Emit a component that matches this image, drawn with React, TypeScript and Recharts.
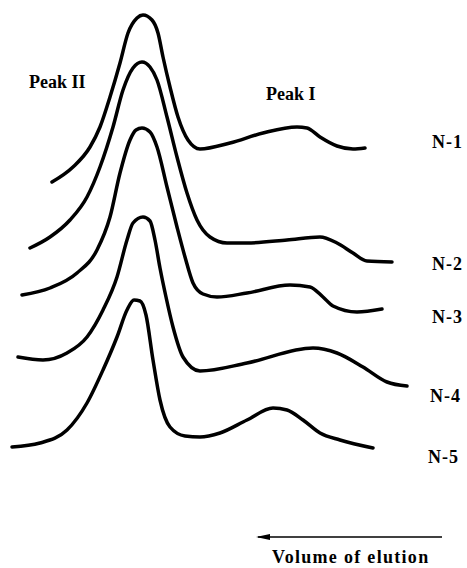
import React from "react";
import { LineChart, Line, XAxis, YAxis, ReferenceLine, ReferenceDot } from "recharts";

// traced elution profiles (x = elution position, y = trace height on the page, down is larger)
const n1 = [
  { x: 52, y: 182 }, { x: 73, y: 167 }, { x: 90, y: 147 }, { x: 100, y: 127 }, { x: 110, y: 97 },
  { x: 120, y: 63 }, { x: 128, y: 33 }, { x: 137, y: 18 }, { x: 143, y: 15 }, { x: 152, y: 20 },
  { x: 158, y: 33 }, { x: 163, y: 57 }, { x: 170, y: 87 }, { x: 178, y: 117 }, { x: 188, y: 140 },
  { x: 200, y: 149 }, { x: 230, y: 143 }, { x: 263, y: 133 }, { x: 297, y: 127 }, { x: 307, y: 128 },
  { x: 320, y: 137 }, { x: 337, y: 146 }, { x: 353, y: 149 }, { x: 365, y: 148 },
];
const n2 = [
  { x: 30, y: 248 }, { x: 50, y: 237 }, { x: 70, y: 220 }, { x: 87, y: 197 }, { x: 100, y: 167 },
  { x: 113, y: 127 }, { x: 123, y: 90 }, { x: 133, y: 68 }, { x: 142, y: 62 }, { x: 150, y: 67 },
  { x: 157, y: 80 }, { x: 167, y: 117 }, { x: 177, y: 157 }, { x: 187, y: 193 }, { x: 197, y: 220 },
  { x: 210, y: 237 }, { x: 227, y: 243 }, { x: 247, y: 243 }, { x: 287, y: 240 }, { x: 320, y: 237 },
  { x: 337, y: 243 }, { x: 353, y: 253 }, { x: 367, y: 261 }, { x: 392, y: 262 },
];
const n3 = [
  { x: 22, y: 295 }, { x: 50, y: 288 }, { x: 77, y: 273 }, { x: 97, y: 250 }, { x: 110, y: 217 },
  { x: 120, y: 173 }, { x: 130, y: 140 }, { x: 136, y: 130 }, { x: 142, y: 128 }, { x: 150, y: 132 },
  { x: 157, y: 147 }, { x: 167, y: 187 }, { x: 177, y: 227 }, { x: 185, y: 257 }, { x: 193, y: 283 },
  { x: 203, y: 294 }, { x: 217, y: 297 }, { x: 247, y: 293 }, { x: 290, y: 285 }, { x: 310, y: 287 },
  { x: 323, y: 297 }, { x: 333, y: 306 }, { x: 357, y: 312 }, { x: 382, y: 309 },
];
const n4 = [
  { x: 18, y: 357 }, { x: 43, y: 360 }, { x: 67, y: 353 }, { x: 87, y: 337 }, { x: 103, y: 310 },
  { x: 117, y: 277 }, { x: 127, y: 240 }, { x: 133, y: 223 }, { x: 143, y: 217 }, { x: 150, y: 221 },
  { x: 155, y: 240 }, { x: 160, y: 268 }, { x: 166, y: 297 }, { x: 173, y: 327 }, { x: 183, y: 357 },
  { x: 200, y: 371 }, { x: 247, y: 363 }, { x: 313, y: 348 }, { x: 337, y: 353 }, { x: 363, y: 367 },
  { x: 387, y: 382 }, { x: 407, y: 386 },
];
const n5 = [
  { x: 12, y: 447 }, { x: 40, y: 443 }, { x: 67, y: 430 }, { x: 87, y: 403 }, { x: 103, y: 370 },
  { x: 117, y: 337 }, { x: 127, y: 310 }, { x: 134, y: 300 }, { x: 140, y: 301 }, { x: 146, y: 315 },
  { x: 153, y: 360 }, { x: 160, y: 400 }, { x: 170, y: 427 }, { x: 185, y: 436 }, { x: 200, y: 437 },
  { x: 220, y: 433 }, { x: 247, y: 420 }, { x: 273, y: 408 }, { x: 287, y: 410 }, { x: 303, y: 420 },
  { x: 320, y: 433 }, { x: 340, y: 440 }, { x: 373, y: 448 },
];

const series = [n1, n2, n3, n4, n5];
const sampleNames = ["N-1", "N-2", "N-3", "N-4", "N-5"];
const sampleLabelAt = [
  { x: 432, y: 148 }, { x: 432, y: 270 }, { x: 432, y: 323 }, { x: 430, y: 402 }, { x: 428, y: 463 },
];
const peakNames = ["Peak II", "Peak I"];
const peakLabelAt = [{ x: 29, y: 88 }, { x: 266, y: 100 }];

const font = "'Liberation Serif', 'Times New Roman', serif";

const textShape = (txt: string, size: number, spacing = 0) => (p: any) => (
  <text
    x={p.cx}
    y={p.cy}
    fontFamily={font}
    fontWeight="bold"
    fontSize={size}
    letterSpacing={spacing}
    fill="#000"
  >
    {txt}
  </text>
);

const arrowHead = (p: any) => (
  <polygon points={`${p.cx - 2},${p.cy} ${p.cx + 12},${p.cy - 3} ${p.cx + 12},${p.cy + 3}`} fill="#000" />
);

export default function App() {
  return (
    <div style={{ position: "absolute", left: 0, top: 0, background: "#fff" }}>
      <LineChart width={467} height={568} margin={{ top: 0, right: 0, bottom: 0, left: 0 }}>
        <XAxis type="number" dataKey="x" domain={[0, 467]} hide allowDataOverflow />
        <YAxis type="number" dataKey="y" domain={[0, 568]} reversed hide allowDataOverflow />
        {series.map((d, i) => (
          <Line
            key={sampleNames[i]}
            data={d}
            dataKey="y"
            type="monotone"
            stroke="#000"
            strokeWidth={3.5}
            strokeLinecap="round"
            strokeLinejoin="round"
            dot={false}
            activeDot={false}
            isAnimationActive={false}
          />
        ))}
        {sampleNames.map((n, i) => (
          <ReferenceDot key={n} x={sampleLabelAt[i].x} y={sampleLabelAt[i].y} r={0} shape={textShape(n, 18, 1)} />
        ))}
        {peakNames.map((n, i) => (
          <ReferenceDot key={n} x={peakLabelAt[i].x} y={peakLabelAt[i].y} r={0} shape={textShape(n, 18)} />
        ))}
        <ReferenceLine segment={[{ x: 258, y: 537 }, { x: 442, y: 537 }]} stroke="#000" strokeWidth={1.5} />
        <ReferenceDot x={258} y={537} r={0} shape={arrowHead} />
        <ReferenceDot x={272} y={563} r={0} shape={textShape("Volume of elution", 18, 1.3)} />
      </LineChart>
    </div>
  );
}
